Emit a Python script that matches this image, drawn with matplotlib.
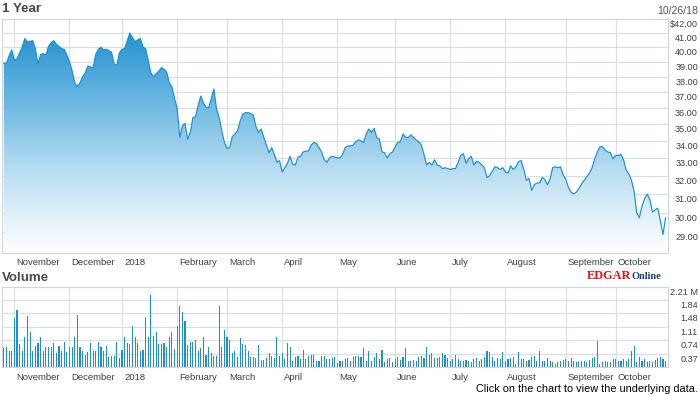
import numpy as np
import matplotlib
matplotlib.use("Agg")
import matplotlib.pyplot as plt
from matplotlib import transforms
from matplotlib.colors import LinearSegmentedColormap
from matplotlib.ticker import NullLocator

plt.rcParams['font.family'] = ['Liberation Sans', 'DejaVu Sans']

# trading days per month: Oct 2017 (from the 26th) ... Oct 2018 (to the 26th)
month_days = [4, 21, 20, 21, 19, 21, 21, 22, 21, 21, 23, 19, 20]
month_labels = ["November", "December", "2018", "February", "March", "April",
                "May", "June", "July", "August", "September", "October"]

# daily close
close = [
    38.9, 38.9, 39.4, 39.8, 39.1, 39.2, 39.6, 40.0, 40.6, 40.35,
    40.4, 40.45, 39.9, 38.85, 39.5, 39.55, 39.45, 40.05, 40.3, 40.45,
    40.2, 40.05, 39.9, 39.85, 39.45, 39.0, 38.4, 37.6, 37.35, 37.6,
    38.0, 38.25, 38.7, 38.65, 38.6, 39.5, 39.85, 40.0, 39.8, 39.85,
    39.75, 39.65, 38.85, 38.75, 39.6, 39.85, 39.9, 40.45, 41.0, 40.65,
    40.4, 40.5, 40.6, 40.0, 39.9, 39.05, 38.25, 38.0, 38.2, 38.35,
    38.6, 38.5, 38.3, 37.6, 37.35, 36.6, 35.95, 34.2, 34.9, 35.05,
    34.1, 34.5, 35.4, 35.45, 36.15, 36.75, 36.3, 36.05, 36.0, 36.6,
    37.2, 35.9, 35.4, 34.6, 33.9, 33.55, 33.6, 34.25, 34.4, 34.6,
    35.2, 35.6, 35.7, 35.7, 35.65, 35.55, 34.85, 34.5, 34.7, 34.2,
    33.75, 33.3, 33.6, 33.2, 32.75, 32.85, 32.2, 32.45, 32.7, 33.1,
    32.65, 32.6, 33.05, 33.1, 33.35, 33.4, 33.4, 33.75, 33.9, 33.85,
    33.6, 33.35, 32.9, 32.75, 33.0, 33.1, 33.05, 33.0, 33.0, 33.2,
    33.6, 33.7, 33.7, 33.75, 33.95, 34.05, 34.0, 33.9, 34.4, 34.7,
    34.5, 34.75, 34.2, 34.1, 33.35, 33.3, 33.0, 33.25, 33.35, 33.65,
    33.9, 33.95, 34.4, 34.2, 34.2, 34.35, 34.2, 34.05, 33.95, 33.75,
    33.2, 32.6, 32.75, 32.6, 32.9, 32.6, 32.55, 32.4, 32.45, 32.4,
    32.35, 32.4, 32.4, 32.75, 33.15, 33.25, 32.7, 32.95, 33.1, 32.6,
    32.8, 32.75, 32.6, 32.45, 31.9, 32.0, 32.25, 32.5, 32.45, 32.35,
    32.45, 32.2, 32.15, 32.55, 32.35, 32.5, 32.8, 32.85, 32.35, 31.75,
    31.85, 31.2, 31.5, 31.6, 31.6, 31.9, 31.8, 31.5, 31.8, 32.45,
    32.5, 32.45, 32.5, 32.05, 31.8, 31.35, 31.1, 31.0, 31.1, 31.3,
    31.55, 31.75, 31.95, 32.15, 32.45, 32.95, 33.35, 33.65, 33.65, 33.45,
    33.35, 33.3, 32.95, 33.15, 33.15, 33.2, 32.9, 32.3, 32.1, 31.75,
    31.15, 30.0, 29.75, 30.35, 30.75, 31.0, 30.7, 30.05, 30.15, 30.25,
    29.6, 28.9, 29.75,
]

# daily volume, millions of shares
volume_m = [
    0.52, 0.57, 0.46, 0.46, 1.34, 1.58, 0.64, 0.46, 0.82, 1.42,
    0.96, 0.46, 0.59, 0.68, 0.82, 0.46, 0.57, 0.55, 0.55, 0.68,
    0.38, 0.59, 0.46, 0.70, 0.41, 0.57, 0.57, 0.82, 1.44, 0.57,
    0.44, 0.35, 0.41, 0.66, 0.44, 0.46, 0.70, 0.55, 0.44, 0.59,
    0.27, 0.30, 0.30, 0.70, 0.25, 0.48, 0.82, 0.67, 0.64, 1.12,
    0.82, 0.68, 0.44, 0.48, 1.37, 0.84, 1.99, 0.87, 0.98, 0.64,
    0.64, 0.67, 0.57, 0.82, 0.96, 0.50, 1.14, 1.69, 1.51, 1.26,
    0.62, 0.70, 0.70, 0.76, 0.46, 0.53, 0.84, 0.35, 0.57, 0.38,
    0.32, 0.32, 1.69, 0.57, 1.03, 0.84, 0.76, 0.39, 0.46, 0.27,
    0.80, 0.64, 0.61, 0.46, 0.27, 0.27, 0.26, 0.61, 0.21, 0.21,
    0.26, 0.39, 0.32, 0.26, 0.84, 0.32, 0.39, 0.23, 0.67, 0.55,
    0.18, 0.27, 0.30, 0.23, 0.48, 0.23, 0.30, 0.35, 0.35, 0.16,
    0.18, 0.30, 0.32, 0.23, 0.23, 0.26, 0.27, 0.12, 0.16, 0.18,
    0.23, 0.26, 0.18, 0.27, 0.30, 0.30, 0.27, 0.53, 0.18, 0.44,
    0.16, 0.27, 0.38, 0.23, 0.48, 0.14, 0.23, 0.26, 0.14, 0.23,
    0.27, 0.21, 0.27, 0.53, 0.18, 0.18, 0.21, 0.18, 0.27, 0.30,
    0.26, 0.55, 0.35, 0.39, 0.26, 0.26, 0.27, 0.39, 0.35, 0.26,
    0.18, 0.23, 0.35, 0.23, 0.16, 0.16, 0.21, 0.16, 0.14, 0.23,
    0.26, 0.18, 0.23, 0.27, 0.46, 0.41, 0.27, 0.16, 0.26, 0.23,
    0.41, 0.18, 0.23, 0.26, 0.27, 0.09, 0.41, 0.23, 0.23, 0.18,
    0.21, 0.27, 0.32, 0.16, 0.46, 0.18, 0.18, 0.26, 0.18, 0.14,
    0.09, 0.14, 0.18, 0.21, 0.23, 0.16, 0.26, 0.18, 0.14, 0.14,
    0.16, 0.18, 0.14, 0.21, 0.26, 0.27, 0.73, 0.09, 0.14, 0.16,
    0.14, 0.14, 0.23, 0.23, 0.16, 0.16, 0.23, 0.16, 0.23, 0.44,
    0.58, 0.14, 0.27, 0.18, 0.23, 0.14, 0.16, 0.14, 0.21, 0.26,
    0.27, 0.23, 0.18,
]

price_ticks = [29, 30, 31, 32, 33, 34, 35, 36, 37, 38, 39, 40, 41, 42]
price_labels = ["29.00", "30.00", "31.00", "32.00", "33.00", "34.00", "35.00",
                "36.00", "37.00", "38.00", "39.00", "40.00", "41.00", "$42.00"]
vol_ticks = [0.37, 0.74, 1.11, 1.48, 1.84, 2.21]
vol_labels = ["0.37", "0.74", "1.11", "1.48", "1.84", "2.21 M"]

line_color = '#1a8fd2'
grid_color = '#d9dee6'
text_color = '#3c4048'

days = np.arange(len(close))
month_starts = np.cumsum(month_days)[:-1]
xlim = (-0.7, len(close) - 0.2)

fig = plt.figure(figsize=(7.0, 3.95), dpi=100)
ax1 = fig.add_axes([2 / 700, 1 - 252.7 / 395, 665.7 / 700, 233.7 / 395])
ax2 = fig.add_axes([2 / 700, 1 - 367.3 / 395, 665.7 / 700, 80.6 / 395])

# price area with a vertical gradient clipped to the area under the line
cmap = LinearSegmentedColormap.from_list(
    'area', ['#ffffff', '#bddff2', '#66b5e1', '#188bcc'])
grad = np.linspace(0, 1, 256).reshape(-1, 1)
im = ax1.imshow(grad, extent=[0, 1, 0, 1], transform=ax1.transAxes,
                origin='lower', aspect='auto', cmap=cmap, zorder=1)
area = ax1.fill_between(days, close, 20, facecolor='none', edgecolor='none')
im.set_clip_path(area.get_paths()[0], transform=ax1.transData)
ax1.plot(days, close, color=line_color, lw=0.85, zorder=3)

ax1.set_yscale('log')
ax1.set_ylim(28, 42)
ax1.set_xlim(*xlim)
ax1.set_yticks(price_ticks)
ax1.yaxis.set_minor_locator(NullLocator())

ax2.bar(days, volume_m, width=0.42, color=line_color, linewidth=0, zorder=2)
ax2.set_ylim(0, 2.21)
ax2.set_xlim(*xlim)
ax2.set_yticks(vol_ticks)

for ax in (ax1, ax2):
    ax.set_xticks(month_starts)
    ax.set_axisbelow(True)
    ax.grid(True, color=grid_color, lw=0.8)
    ax.tick_params(length=0, labelleft=False, labelbottom=False)
    for sp in ax.spines.values():
        sp.set_color('#cfd5de')
        sp.set_linewidth(0.8)

    # month names just right of each gridline, under the panel
    base = transforms.blended_transform_factory(ax.transData, ax.transAxes)
    mtr = transforms.offset_copy(base, fig=fig, x=2, y=-10, units='dots')
    for m, lab in zip(month_starts, month_labels):
        ax.text(m, 0, lab, transform=mtr, ha='left', va='center',
                fontsize=6.8, color=text_color, clip_on=False)

# value labels on the right, sitting just under their gridlines
for ax, ticks, labels in ((ax1, price_ticks, price_labels),
                          (ax2, vol_ticks, vol_labels)):
    base = transforms.blended_transform_factory(fig.transFigure, ax.transData)
    ytr = transforms.offset_copy(base, fig=fig, x=0, y=-5.5, units='dots')
    for v, lab in zip(ticks, labels):
        ax.text(698 / 700, v, lab, transform=ytr, ha='right', va='center',
                fontsize=6.6, color=text_color, clip_on=False)

fig.text(2 / 700, 1 - 9 / 395, "1 Year", ha='left', va='center',
         fontsize=9.6, fontweight='bold', color='#464a53')
fig.text(2 / 700, 1 - 277.7 / 395, "Volume", ha='left', va='center',
         fontsize=9.6, fontweight='bold', color='#464a53')
fig.text(698 / 700, 1 - 11 / 395, "10/26/18", ha='right', va='center',
         fontsize=7.6, color='#505560')

# EDGAR Online mark
fig.text(586.7 / 700, 1 - 279 / 395, "EDGAR", ha='left', va='baseline',
         family='Liberation Serif', fontweight='bold', fontsize=8.8,
         color='#e8101a')
fig.text(632 / 700, 1 - 279 / 395, "Online", ha='left', va='baseline',
         family='Liberation Serif', fontweight='bold', fontsize=7.4,
         color='#1f3a7a')

fig.text(698 / 700, 1 - 389 / 395,
         "Click on the chart to view the underlying data.",
         ha='right', va='center', fontsize=7.8, color='black')

fig.savefig("out.png", dpi=100, facecolor='white')
